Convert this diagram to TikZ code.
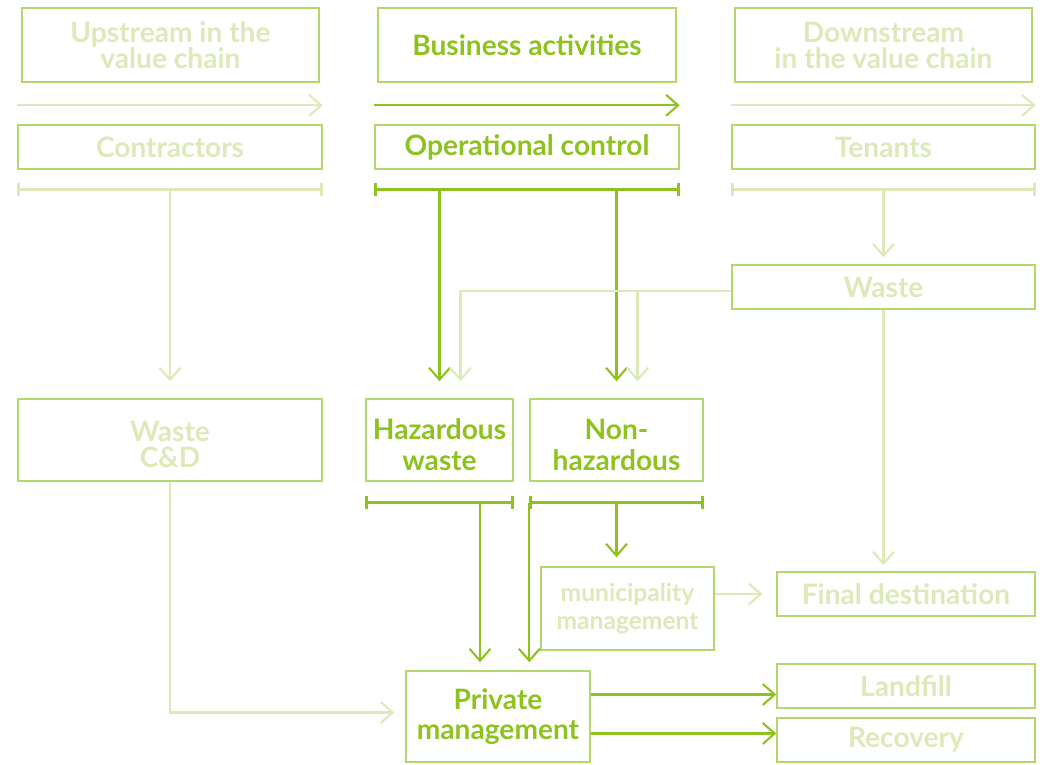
\documentclass[tikz,border=0pt]{standalone}
\usepackage{fontspec}
\setmainfont{Lato}
\usetikzlibrary{arrows.meta, positioning, calc}

\definecolor{bright}{HTML}{8DC21F}
\definecolor{pale}{HTML}{DDE9B9}
\definecolor{boxline}{HTML}{B5D66A}

\newcommand{\lowr}{\rule{0pt}{17pt}}

\begin{document}
\begin{tikzpicture}[
    x=0.02cm, y=-0.02cm,
    box/.style={
        draw=boxline, line width=0.8pt, align=center,
        inner sep=2pt, font=\bfseries\fontsize{16}{14.8}\selectfont
    },
    hi/.style={box, text=bright},
    lo/.style={box, text=pale},
    flow/.style={draw=bright, line width=1.2pt, -{Straight Barb[length=0.24cm, width=0.42cm]}},
    flowlo/.style={flow, draw=pale},
    span/.style={draw=bright, line width=1.6pt, {Bar[width=0.26cm]}-{Bar[width=0.26cm]}},
    spanlo/.style={span, draw=pale},
]
\useasboundingbox (0,0) rectangle (1047,764);

% --- value chain headers ---
\node[lo, minimum width=5.94cm, minimum height=1.48cm] (UP) at (170.5, 45) {Upstream in the\\value chain};
\node[hi, minimum width=5.96cm, minimum height=1.48cm] (BA) at (527, 45) {Business activities};
\node[lo, minimum width=5.94cm, minimum height=1.48cm] (DS) at (883.5, 45) {Downstream\\in the value chain};

% --- who is in control ---
\node[lo, minimum width=6.08cm, minimum height=0.88cm] (CT) at (170, 147) {Contractors};
\node[hi, minimum width=6.08cm, minimum height=0.88cm] (OC) at (527, 147) {Operational control};
\node[lo, minimum width=6.06cm, minimum height=0.88cm] (TN) at (883.5, 147) {Tenants};

% --- waste types ---
\node[lo, minimum width=6.06cm, minimum height=0.88cm] (WS) at (883.5, 287) {Waste};
\node[lo, minimum width=6.08cm, minimum height=1.64cm] (WCD) at (170, 440) {\lowr Waste\\C\&D};
\node[hi, minimum width=2.94cm, minimum height=1.64cm, font=\bfseries\fontsize{16}{17.6}\selectfont] (HW) at (439.5, 440) {\lowr Hazardous\\waste};
\node[hi, minimum width=3.46cm, minimum height=1.64cm, font=\bfseries\fontsize{16}{17.6}\selectfont] (NH) at (616.5, 440) {\lowr Non-\\hazardous};

% --- management and destination ---
\node[lo, minimum width=3.46cm, minimum height=1.66cm, font=\bfseries\fontsize{14}{16.4}\selectfont] (MM) at (627.5, 608.5) {municipality\\management};
\node[lo, minimum width=5.16cm, minimum height=0.88cm] (FD) at (906, 594) {Final destination};
\node[hi, minimum width=3.68cm, minimum height=1.82cm, font=\bfseries\fontsize{16}{17}\selectfont] (PM) at (498, 716.5) {Private\\management};
\node[lo, minimum width=5.16cm, minimum height=0.88cm] (LF) at (906, 686) {Landfill};
\node[lo, minimum width=5.16cm, minimum height=0.88cm] (RC) at (906, 740) {Recovery};

% --- chain arrows ---
\draw[flowlo] ([yshift=0.38cm]CT.north west) -- ([yshift=0.38cm]CT.north east);
\draw[flow] ([yshift=0.38cm]OC.north west) -- ([yshift=0.38cm]OC.north east);
\draw[flowlo] ([yshift=0.38cm]TN.north west) -- ([yshift=0.38cm]TN.north east);

% --- brackets ---
\coordinate (CTb) at ([yshift=-0.4cm]CT.south);
\coordinate (OCb) at ([yshift=-0.4cm]OC.south);
\coordinate (TNb) at ([yshift=-0.4cm]TN.south);
\coordinate (HWb) at ([yshift=-0.42cm]HW.south);
\coordinate (NHb) at ([yshift=-0.42cm]NH.south);
\draw[spanlo] (CTb -| CT.west) -- (CTb -| CT.east);
\draw[span] (OCb -| OC.west) -- (OCb -| OC.east);
\draw[spanlo] (TNb -| TN.west) -- (TNb -| TN.east);
\draw[span] (HWb -| HW.west) -- (HWb -| HW.east);
\draw[span] (NHb -| NH.west) -- (NHb -| NH.east);

% arrow ends above the boxes
\coordinate (HWin) at ([xshift=0.42cm, yshift=0.34cm]HW.north);
\coordinate (NHin) at ([xshift=0.42cm, yshift=0.34cm]NH.north);
\coordinate (WSout) at ([yshift=-0.08cm]WS.west);
\coordinate (PMin) at ([yshift=0.16cm]PM.north);
\coordinate (HWdn) at ([xshift=0.81cm]HWb);

% --- connections ---
\draw[flowlo] (CTb) -- ([yshift=0.34cm]WCD.north);
\draw[flow] (OCb -| HW.north) -- ([yshift=0.34cm]HW.north);
\draw[flow] (OCb -| NH.north) -- ([yshift=0.34cm]NH.north);
\draw[flowlo] (TNb) -- ([yshift=0.14cm]WS.north);

% Waste splits into both types
\draw[flowlo] (WSout) -| (HWin);
\draw[flowlo] (WSout -| NHin) -- (NHin);
\draw[flowlo] (WS.south) -- ([yshift=0.12cm]WS.south |- FD.north);

% to private / municipality management
\draw[flow] (HWdn) -- (HWdn |- PMin);
\draw[flow] (NHb -| NH.west) -- (NH.west |- PMin);
\draw[flow] (NHb) -- ([yshift=0.18cm]NHb |- MM.north);
\draw[flowlo, shorten >=0.28cm] (MM.east |- FD.west) -- (FD.west);
\draw[flowlo] (WCD.south) |- ([xshift=-0.22cm, yshift=0.08cm]PM.west);

% private management outcomes
\draw[flow] ([yshift=0.44cm]PM.east) -- ([yshift=0.44cm]PM.east -| LF.west);
\draw[flow] ([yshift=-0.34cm]PM.east) -- ([yshift=-0.34cm]PM.east -| RC.west);

\end{tikzpicture}
\end{document}
